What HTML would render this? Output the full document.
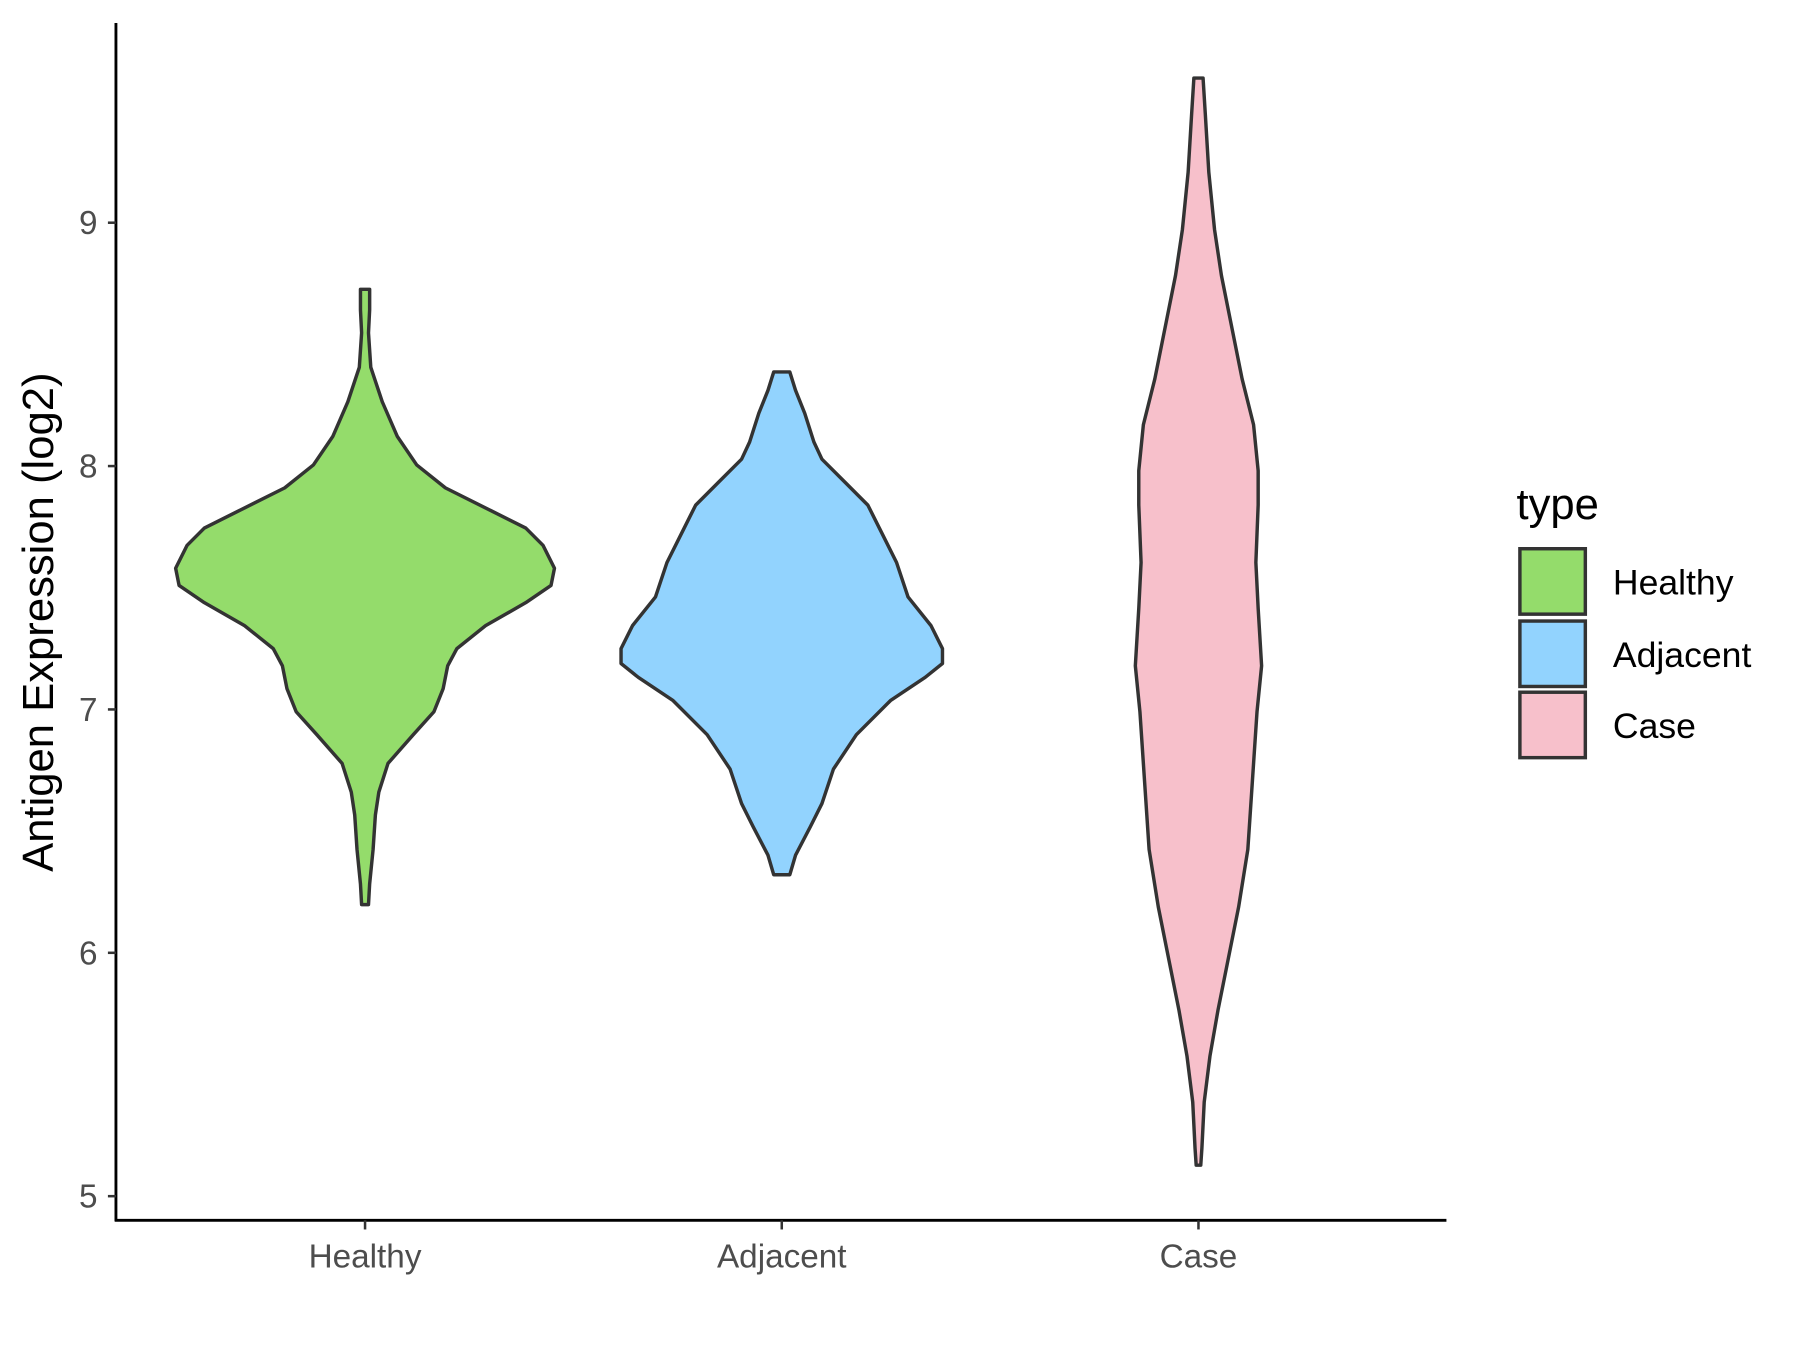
<!DOCTYPE html>
<html><head><meta charset="utf-8"><style>html,body{margin:0;padding:0;background:#fff}svg{display:block}</style></head>
<body>
<svg width="1800" height="1350" viewBox="0 0 1568 1176" xmlns="http://www.w3.org/2000/svg" font-family="Liberation Sans, Arial, sans-serif">
<rect width="1568" height="1176" fill="#fff"/>
<g stroke="#333" stroke-width="3" stroke-linejoin="round">
<path fill="#94DC6B" d="M322,252 L322,270 L321,290 L323,320 L333,350 L346,380 L363,405 L388,425 L428,445 L458,460 L473,475 L483,495 L480,510 L458,525 L423,545 L398,565 L390,580 L386,600 L378,620 L360,640 L338,665 L330,690 L327,710 L325,740 L322,770 L321,788 L315,788 L314,770 L311,740 L309,710 L306,690 L298,665 L276,640 L258,620 L250,600 L246,580 L238,565 L213,545 L178,525 L156,510 L153,495 L163,475 L178,460 L208,445 L248,425 L273,405 L290,380 L303,350 L313,320 L315,290 L314,270 L314,252 Z"/>
<path fill="#92D3FE" d="M688,324 L693,340 L701,360 L709,385 L716,400 L736,420 L756,440 L766,460 L781,490 L791,520 L811,545 L821,565 L821,578 L806,590 L776,610 L746,640 L726,670 L716,700 L706,720 L693,745 L688,762 L674,762 L669,745 L656,720 L646,700 L636,670 L616,640 L586,610 L556,590 L541,578 L541,565 L551,545 L571,520 L581,490 L596,460 L606,440 L626,420 L646,400 L653,385 L661,360 L669,340 L674,324 Z"/>
<path fill="#F7C0CB" d="M1048,68 L1050,100 L1053,150 L1058,200 L1064,240 L1072,280 L1082,330 L1092,370 L1096,410 L1096,440 L1094,490 L1096,530 L1099,580 L1095,620 L1091,680 L1087,740 L1079,790 L1069,840 L1061,880 L1054,920 L1049,960 L1047,1000 L1046,1015 L1042,1015 L1041,1000 L1039,960 L1034,920 L1027,880 L1019,840 L1009,790 L1001,740 L997,680 L993,620 L989,580 L992,530 L994,490 L992,440 L992,410 L996,370 L1006,330 L1016,280 L1024,240 L1030,200 L1035,150 L1038,100 L1040,68 Z"/>
</g>
<g stroke="#000" stroke-width="2.5" fill="none">
<line x1="101" y1="20" x2="101" y2="1064"/>
<line x1="100" y1="1063" x2="1260" y2="1063"/>
</g>
<g stroke="#333" stroke-width="2.2">
<line x1="94" y1="1042" x2="101" y2="1042"/><line x1="94" y1="830" x2="101" y2="830"/><line x1="94" y1="618" x2="101" y2="618"/><line x1="94" y1="406" x2="101" y2="406"/><line x1="94" y1="194" x2="101" y2="194"/>
<line x1="318" y1="1063" x2="318" y2="1071"/><line x1="681" y1="1063" x2="681" y2="1071"/><line x1="1044" y1="1063" x2="1044" y2="1071"/>
</g>
<g fill="#4d4d4d" font-size="29" text-anchor="end">
<text x="85" y="1052">5</text><text x="85" y="840">6</text><text x="85" y="628">7</text><text x="85" y="416">8</text><text x="85" y="204">9</text>
</g>
<g fill="#4d4d4d" font-size="29" text-anchor="middle">
<text x="318" y="1104">Healthy</text><text x="681" y="1104">Adjacent</text><text x="1044" y="1104">Case</text>
</g>
<text transform="translate(46,542) rotate(-90)" font-size="38" text-anchor="middle" fill="#000">Antigen Expression (log2)</text>
<text x="1321" y="452" font-size="38" fill="#000">type</text>
<g stroke="#333" stroke-width="3">
<rect x="1324" y="478" width="57" height="57" fill="#94DC6B"/>
<rect x="1324" y="541" width="57" height="57" fill="#92D3FE"/>
<rect x="1324" y="603" width="57" height="57" fill="#F7C0CB"/>
</g>
<g font-size="31" fill="#000">
<text x="1405" y="518">Healthy</text><text x="1405" y="581">Adjacent</text><text x="1405" y="643">Case</text>
</g>
</svg>
</body></html>
